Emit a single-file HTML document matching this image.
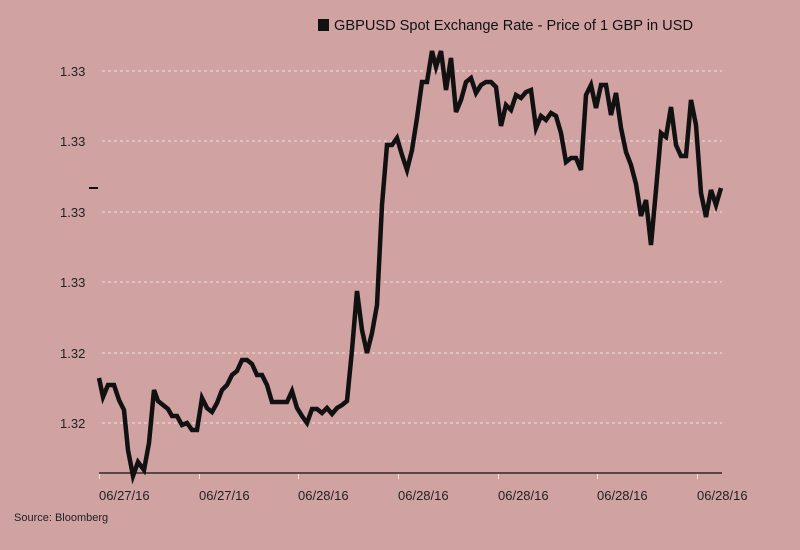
<!DOCTYPE html>
<html><head><style>
body{margin:0;background:#d0a2a2;}
svg{display:block;font-family:"Liberation Sans",sans-serif;}
</style></head><body>
<svg width="800" height="550" viewBox="0 0 800 550">
<rect width="800" height="550" fill="#d0a2a2"/>
<rect x="318" y="19" width="11" height="12" fill="#111"/>
<text x="334" y="30" font-size="15" fill="#111" textLength="359" lengthAdjust="spacingAndGlyphs">GBPUSD Spot Exchange Rate - Price of 1 GBP in USD</text>
<g stroke="#f2e2e2" stroke-width="1" stroke-dasharray="3,3">
<line x1="102" y1="71" x2="722" y2="71"/>
<line x1="102" y1="141" x2="722" y2="141"/>
<line x1="102" y1="212" x2="722" y2="212"/>
<line x1="102" y1="282" x2="722" y2="282"/>
<line x1="102" y1="353" x2="722" y2="353"/>
<line x1="102" y1="423" x2="722" y2="423"/>
</g>
<g font-size="13" fill="#222">
<text x="60" y="76">1.33</text>
<text x="60" y="146">1.33</text>
<text x="60" y="217">1.33</text>
<text x="60" y="287">1.33</text>
<text x="60" y="358">1.32</text>
<text x="60" y="428">1.32</text>
</g>
<line x1="89" y1="188" x2="98" y2="188" stroke="#111" stroke-width="2"/>
<line x1="99" y1="473" x2="722" y2="473" stroke="#111" stroke-width="1.2"/>
<g stroke="#f2e2e2" stroke-width="1">
<line x1="99.5" y1="474" x2="99.5" y2="479"/><line x1="199.5" y1="474" x2="199.5" y2="479"/><line x1="298.5" y1="474" x2="298.5" y2="479"/><line x1="398.5" y1="474" x2="398.5" y2="479"/><line x1="498.5" y1="474" x2="498.5" y2="479"/><line x1="597.5" y1="474" x2="597.5" y2="479"/><line x1="697.5" y1="474" x2="697.5" y2="479"/>
</g>
<g font-size="13" fill="#222">
<text x="99" y="500">06/27/16</text><text x="199" y="500">06/27/16</text><text x="298" y="500">06/28/16</text><text x="398" y="500">06/28/16</text><text x="498" y="500">06/28/16</text><text x="597" y="500">06/28/16</text><text x="697" y="500">06/28/16</text>
</g>
<text x="14" y="521" font-size="11" fill="#222">Source: Bloomberg</text>
<polyline fill="none" stroke="#111" stroke-width="4.5" stroke-linejoin="miter" points="99,378 103,397 108,385 114,385 119,400 124,410 128,450 133,476 138,462 144,470 149,443 154,390 158,401 163,405 168,409 172,416 177,416 182,425 187,423 192,430 197,430 202,398 207,408 212,412 217,403 222,390 227,385 232,375 237,371 242,360 247,360 252,364 257,375 262,375 267,385 272,402 277,402 282,402 287,402 292,391 297,408 302,416 307,423 312,409 317,409 322,413 327,408 332,414 337,408 342,405 347,401 352,350 357,291 362,330 367,353 372,333 377,305 382,205 387,145 392,145 397,138 402,155 407,170 412,150 417,118 422,82 427,82 432,51 436,67 441,51 446,90 451,58 456,112 461,100 466,82 471,78 476,93 481,85 486,82 491,82 496,87 501,126 506,105 511,110 516,95 521,98 526,92 531,90 536,128 541,116 546,120 551,113 556,116 561,133 566,162 571,158 576,158 581,170 586,95 591,85 596,108 601,85 606,85 611,115 616,93 621,128 626,152 631,165 636,184 641,216 646,200 651,245 656,190 661,133 666,137 671,107 676,145 681,156 686,156 691,100 696,125 701,193 706,217 711,190 716,205 721,188"/>
</svg>
</body></html>
